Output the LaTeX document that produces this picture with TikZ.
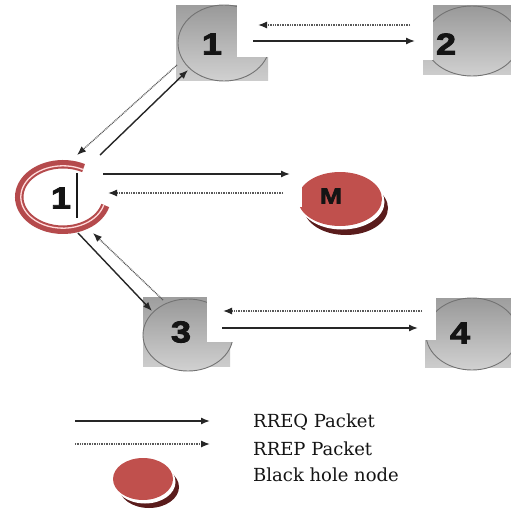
\documentclass[tikz,border=0pt]{standalone}
\usepackage{fontspec}
\setmainfont{DejaVu Serif}
\newfontfamily\numfont{Liberation Sans Bold}[FakeStretch=1.2, FakeBold=3]
\usetikzlibrary{arrows.meta,calc}

\definecolor{holered}{HTML}{C0504D}
\definecolor{holedark}{HTML}{5A1C1C}
\definecolor{ringred}{HTML}{B54A4C}

\tikzset{
  req/.style={line width=1.4pt, draw=black!85, -{Latex[length=9pt,width=7pt]}},
  rep/.style={line width=1.3pt, draw=black!65, dash pattern=on 0.9pt off 0.8pt,
    -{Latex[length=9pt,width=7pt,color=black!85]}},
  box/.style={top color=black!38, bottom color=black!20},
  host/.style={draw=black!55, line width=0.9pt, top color=black!40, bottom color=black!18},
  num/.style={inner sep=0pt, text=black!92, font=\numfont\fontsize{30}{30}\selectfont},
  lbl/.style={inner sep=0pt, anchor=west, text=black!92, font=\fontsize{18}{18}\selectfont},
  ring/.style={draw=ringred, line width=8.5pt},
  ringgap/.style={draw=white!85!red, line width=1.3pt},
}

\begin{document}
\begin{tikzpicture}[x=1pt,y=-1pt]
  \useasboundingbox[fill=white] (0,0) rectangle (511,514);

  % gray hosts: square, disc, white corner
  \fill[box] (176,5) rectangle (268,80);
  \draw[host] (224,43) ellipse [x radius=46pt, y radius=38pt];
  \fill[white] (237,0) rectangle (272,57);
  \node[num] (n1) at (212,44) {1};

  \fill[box] (423,5) rectangle (511,74);
  \draw[host] (472,41) ellipse [x radius=47pt, y radius=35pt];
  \fill[white] (418,0) rectangle (433,60);
  \node[num] (n2) at (446,44) {2};

  \fill[box] (143,297) rectangle (230,366);
  \draw[host] (188,335) ellipse [x radius=45pt, y radius=36pt];
  \fill[white] (207,290) rectangle (236,342);
  \node[num] (n3) at (181,332) {3};

  \fill[box] (425,298) rectangle (511,367);
  \draw[host] (472,334) ellipse [x radius=46pt, y radius=36pt];
  \fill[white] (418,290) rectangle (436,340);
  \node[num] (n4) at (460,333) {4};

  % source
  \node[num] (src) at (61,198) {1};
  \draw[ring] ($(src)+(2,-1)$) ++(62:43.75pt and 32.75pt)
    arc [start angle=62, end angle=345, x radius=43.75pt, y radius=32.75pt];
  \draw[ringgap] ($(src)+(2,-1)$) ++(62:42.2pt and 31.2pt)
    arc [start angle=62, end angle=345, x radius=42.2pt, y radius=31.2pt];
  \draw[line width=1.8pt, black!90] (77,173) -- (77,218);

  % black hole
  \fill[holedark] (346,208) ellipse [x radius=42pt, y radius=27pt];
  \fill[white] (342,202) ellipse [x radius=42.5pt, y radius=27.5pt];
  \fill[holered] (340,199) ellipse [x radius=42pt, y radius=27pt];
  \fill[white] (280,165) rectangle (302,207);
  \node[num, font=\numfont\fontsize{22}{22}\selectfont] (m) at (331,196) {M};

  % route request / reply
  \draw[req] ($(n1)+(41,-3)$) -- ($(n2)+(-31,-3)$);
  \draw[rep] ($(n2)+(-36,-19)$) -- ($(n1)+(46,-19)$);
  \draw[req] ($(src)+(39,-43)$) -- ($(n1)+(-24,26)$);
  \draw[rep] ($(n1)+(-35,21)$) -- ($(src)+(16,-43)$);
  \draw[req] ($(src)+(42,-24)$) -- ($(m)+(-41,-22)$);
  \draw[rep] ($(m)+(-48,-3)$) -- ($(src)+(47,-5)$);
  \draw[req] ($(src)+(17,35)$) -- ($(n3)+(-29,-21)$);
  \draw[rep] ($(n3)+(-18,-32)$) -- ($(src)+(32,35)$);
  \draw[req] ($(n3)+(41,-4)$) -- ($(n4)+(-42,-5)$);
  \draw[rep] ($(n4)+(-38,-22)$) -- ($(n3)+(42,-21)$);

  % legend
  \coordinate (reqa) at (75,421);
  \coordinate (reqb) at (210,421);
  \coordinate (repa) at (75,444);
  \coordinate (repb) at (210,444);
  \draw[req] (reqa) -- (reqb);
  \draw[rep] (repa) -- (repb);
  \fill[holedark] (149,487) ellipse [x radius=30pt, y radius=21pt];
  \fill[white] (145,482) ellipse [x radius=30.5pt, y radius=21.5pt];
  \fill[holered] (143,479) ellipse [x radius=30pt, y radius=21pt];
  \node[lbl] (reqlbl) at (253,422) {RREQ Packet};
  \node[lbl] (replbl) at (253,449) {RREP Packet};
  \node[lbl] (bhlbl) at (253,475) {Black hole node};
\end{tikzpicture}
\end{document}
